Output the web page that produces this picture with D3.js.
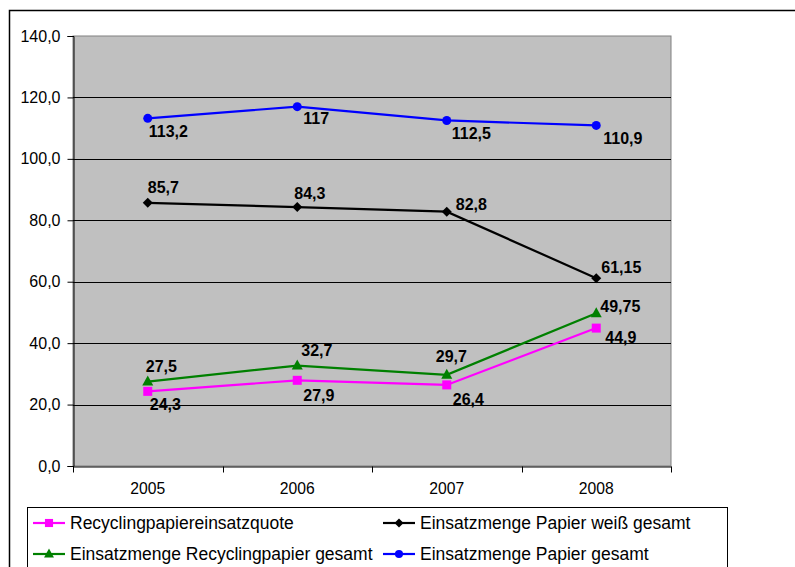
<!DOCTYPE html>
<html>
<head>
<meta charset="utf-8">
<script src="https://cdn.jsdelivr.net/npm/d3@7/dist/d3.min.js"></script>
<style>
  html, body { margin: 0; padding: 0; background: #fff; }
  svg { display: block; font-family: "Liberation Sans", Arial, sans-serif; }
</style>
</head>
<body>
<svg id="chart" width="795" height="567"></svg>
<script>
// Jahre und Messreihen
const years = ["2005", "2006", "2007", "2008"];
const quote = [24.3, 27.9, 26.4, 44.9];          // Recyclingpapiereinsatzquote
const papierWeiss = [85.7, 84.3, 82.8, 61.15];   // Einsatzmenge Papier weiß gesamt
const recycling = [27.5, 32.7, 29.7, 49.75];     // Einsatzmenge Recyclingpapier gesamt
const papierGesamt = [113.2, 117, 112.5, 110.9]; // Einsatzmenge Papier gesamt
const yTicks = [0, 20, 40, 60, 80, 100, 120, 140];

// Beschriftungsversatz je Punkt (dx, dy zur Textmitte)
const offsets = {
  quote: [[2, 13], [6, 15], [6, 14], [9, 9]],
  weiss: [[0, -15], [-3, -14], [9, -7], [5, -11]],
  recycling: [[-2, -15], [4, -15], [-11, -18], [4, -7]],
  gesamt: [[1, 13], [6, 12], [5, 13], [7, 13]]
};

const series = [
  { key: "quote", name: "Recyclingpapiereinsatzquote", values: quote, color: "#FF00FF", marker: "square" },
  { key: "weiss", name: "Einsatzmenge Papier weiß gesamt", values: papierWeiss, color: "#000000", marker: "diamond" },
  { key: "recycling", name: "Einsatzmenge Recyclingpapier gesamt", values: recycling, color: "#008000", marker: "triangle" },
  { key: "gesamt", name: "Einsatzmenge Papier gesamt", values: papierGesamt, color: "#0000FF", marker: "circle" }
];

const fmt = v => String(v).replace(".", ",");
const fmtTick = v => v.toFixed(1).replace(".", ",");
const FONT = "Liberation Sans, Arial, sans-serif";

const svg = d3.select("#chart");

// Äußerer Rahmen
svg.append("rect")
  .attr("x", 9.5).attr("y", 10.5)
  .attr("width", 820).attr("height", 600)
  .attr("fill", "#fff").attr("stroke", "#000").attr("stroke-width", 1.5);

const plot = { left: 73, top: 36, right: 671, bottom: 466 };

const x = d3.scaleBand().domain(years).range([plot.left, plot.right]);
const y = d3.scaleLinear().domain([0, 140]).range([plot.bottom, plot.top]);

// Zeichenfläche
svg.append("rect")
  .attr("x", plot.left).attr("y", plot.top)
  .attr("width", plot.right - plot.left).attr("height", plot.bottom - plot.top)
  .attr("fill", "#C0C0C0").attr("stroke", "#808080").attr("stroke-width", 1);

// Gitternetzlinien
svg.append("g").selectAll("line")
  .data(yTicks.filter(t => t > 0 && t < 140))
  .join("line")
  .attr("x1", plot.left).attr("x2", plot.right)
  .attr("y1", d => Math.round(y(d)) + 0.5).attr("y2", d => Math.round(y(d)) + 0.5)
  .attr("stroke", "#000").attr("stroke-width", 1);

// Y-Achse
const yAxis = svg.append("g")
  .attr("transform", `translate(${plot.left + 0.5},0)`)
  .call(d3.axisLeft(y).tickValues(yTicks).tickFormat(fmtTick).tickSize(6).tickPadding(7));
yAxis.select(".domain").attr("stroke", "#000");
yAxis.selectAll("text").attr("font-size", 16).attr("fill", "#000").attr("font-family", FONT);

// X-Achse mit Teilstrichen an den Kategoriengrenzen
const xAxis = svg.append("g")
  .attr("transform", `translate(0,${plot.bottom + 0.5})`)
  .call(d3.axisBottom(x).tickSize(0).tickPadding(16));
xAxis.select(".domain").attr("stroke", "#000");
xAxis.selectAll("text").attr("font-size", 15.7).attr("fill", "#000").attr("font-family", FONT);
const bounds = years.map(d => x(d)).concat([x(years[years.length - 1]) + x.bandwidth()]);
xAxis.selectAll("line.bound").data(bounds).join("line")
  .attr("class", "bound")
  .attr("x1", d => Math.round(d) + 0.5).attr("x2", d => Math.round(d) + 0.5)
  .attr("y1", 0).attr("y2", 6)
  .attr("stroke", "#000");

const cx = d => x(d) + x.bandwidth() / 2;

function drawMarker(g, type, color, px, py, s = 1) {
  if (type === "square") {
    g.append("rect").attr("x", px - 4.5 * s).attr("y", py - 4.5 * s).attr("width", 9 * s).attr("height", 9 * s).attr("fill", color);
  } else if (type === "diamond") {
    g.append("path").attr("d", `M${px},${py - 5 * s}L${px + 5 * s},${py}L${px},${py + 5 * s}L${px - 5 * s},${py}Z`).attr("fill", color);
  } else if (type === "triangle") {
    g.append("path").attr("d", `M${px},${py - 6 * s}L${px + 5.5 * s},${py + 4 * s}L${px - 5.5 * s},${py + 4 * s}Z`).attr("fill", color);
  } else {
    g.append("circle").attr("cx", px).attr("cy", py).attr("r", 4.5 * s).attr("fill", color);
  }
}

const line = d3.line().x((d, i) => cx(years[i])).y(d => y(d));

// Reihen: Linien zuerst, dann Marker, dann Beschriftungen
const drawOrder = ["quote", "weiss", "recycling", "gesamt"];
drawOrder.forEach(k => {
  const s = series.find(z => z.key === k);
  svg.append("path").datum(s.values).attr("d", line)
    .attr("fill", "none").attr("stroke", s.color).attr("stroke-width", 2.2);
});
drawOrder.forEach(k => {
  const s = series.find(z => z.key === k);
  const g = svg.append("g");
  s.values.forEach((v, i) => drawMarker(g, s.marker, s.color, cx(years[i]), y(v)));
});
drawOrder.forEach(k => {
  const s = series.find(z => z.key === k);
  svg.append("g").selectAll("text").data(s.values).join("text")
    .attr("x", (v, i) => cx(years[i]) + offsets[k][i][0])
    .attr("y", (v, i) => y(v) + offsets[k][i][1])
    .attr("dy", "0.35em")
    .attr("font-size", 16).attr("font-weight", "bold").attr("fill", "#000")
    .text(v => fmt(v));
});

// Legende
svg.append("rect")
  .attr("x", 27.5).attr("y", 507.5).attr("width", 700).attr("height", 100)
  .attr("fill", "#fff").attr("stroke", "#000").attr("stroke-width", 1);

const legendPos = [
  { key: "quote", x: 33, y: 523 },
  { key: "weiss", x: 383, y: 523 },
  { key: "recycling", x: 33, y: 554 },
  { key: "gesamt", x: 383, y: 554 }
];
legendPos.forEach(p => {
  const s = series.find(z => z.key === p.key);
  const g = svg.append("g");
  g.append("line").attr("x1", p.x).attr("x2", p.x + 32).attr("y1", p.y).attr("y2", p.y)
    .attr("stroke", s.color).attr("stroke-width", 2.2);
  drawMarker(g, s.marker, s.color, p.x + 16, p.y, 0.9);
  g.append("text").attr("x", p.x + 37).attr("y", p.y).attr("dy", "0.35em")
    .attr("font-size", 17.5).attr("fill", "#000").text(s.name);
});
</script>
</body>
</html>
